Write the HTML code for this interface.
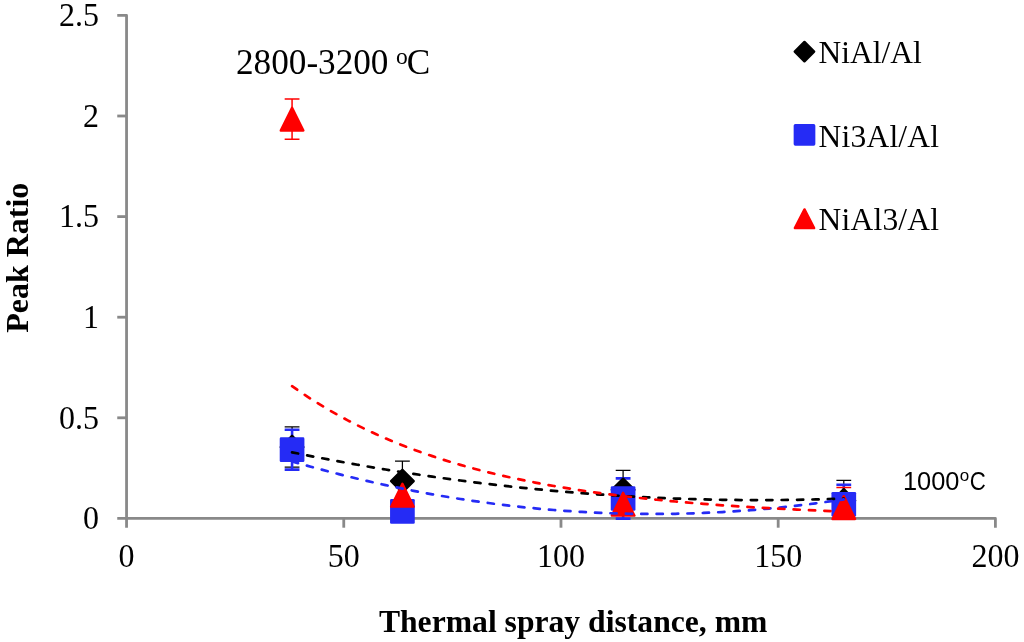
<!DOCTYPE html>
<html lang="en"><head><meta charset="utf-8"><title>Peak Ratio vs Thermal spray distance</title>
<style>
html,body{margin:0;padding:0;background:#fff;}
body{width:1024px;height:642px;overflow:hidden;}
svg{display:block;will-change:transform;}
.s{font-family:"Liberation Serif","Times New Roman",serif;fill:#000;}
.b{font-family:"Liberation Serif","Times New Roman",serif;font-weight:bold;fill:#000;}
.c{font-family:"Liberation Sans",Arial,sans-serif;fill:#000;}
</style></head><body>
<svg width="1024" height="642" viewBox="0 0 1024 642">
<rect width="1024" height="642" fill="#fff"/>
<g stroke="#898989" stroke-width="2.8" fill="none" stroke-linejoin="round">
<path d="M117.25 15.40H126.55V527.6999999999999"/>
<path d="M117.25 518.4H995.40V527.6999999999999"/>
<path d="M117.25 417.80H126.55"/>
<path d="M117.25 317.20H126.55"/>
<path d="M117.25 216.60H126.55"/>
<path d="M117.25 116.00H126.55"/>
<path d="M343.76 518.4V527.6999999999999"/>
<path d="M560.97 518.4V527.6999999999999"/>
<path d="M778.19 518.4V527.6999999999999"/>
</g>
<text class="s" transform="translate(99,529.10) scale(1,1.04)" font-size="32" text-anchor="end">0</text>
<text class="s" transform="translate(99,429.30) scale(1,1.04)" font-size="32" text-anchor="end">0.5</text>
<text class="s" transform="translate(99,327.90) scale(1,1.04)" font-size="32" text-anchor="end">1</text>
<text class="s" transform="translate(99,227.30) scale(1,1.04)" font-size="32" text-anchor="end">1.5</text>
<text class="s" transform="translate(99,126.70) scale(1,1.04)" font-size="32" text-anchor="end">2</text>
<text class="s" transform="translate(99,26.10) scale(1,1.04)" font-size="32" text-anchor="end">2.5</text>
<text class="s" transform="translate(126.55,567.1) scale(1,1.04)" font-size="32" text-anchor="middle">0</text>
<text class="s" transform="translate(343.76,567.1) scale(1,1.04)" font-size="32" text-anchor="middle">50</text>
<text class="s" transform="translate(560.97,567.1) scale(1,1.04)" font-size="32" text-anchor="middle">100</text>
<text class="s" transform="translate(778.19,567.1) scale(1,1.04)" font-size="32" text-anchor="middle">150</text>
<text class="s" transform="translate(995.40,567.1) scale(1,1.04)" font-size="32" text-anchor="middle">200</text>
<text class="b" transform="translate(28,257.75) rotate(-90)" font-size="32" text-anchor="middle">Peak Ratio</text>
<text class="b" x="573.15" y="632.3" font-size="31.65" text-anchor="middle">Thermal spray distance, mm</text>
<text class="s" x="236" y="74" font-size="35.2">2800-3200</text>
<text class="s" x="395.9" y="63.7" font-size="23.5">o</text>
<text class="s" x="406.8" y="74" font-size="35.2">C</text>
<text class="c" x="902.9" y="489.7" font-size="25.4">1000</text>
<text class="c" x="959.7" y="480.6" font-size="17">o</text>
<text class="c" transform="translate(969.7,489.7) scale(0.875,1)" font-size="25.4">C</text>
<path d="M804.45 41.90L814.15 51.60L804.45 61.30L794.75 51.60Z" fill="#000000" stroke="#000000" stroke-width="2.4" stroke-linejoin="round"/>
<rect x="793.65" y="124.00" width="21.70" height="21.70" rx="1.7" fill="#252bf5"/>
<path d="M804.50 209.40L814.15 228.10L794.85 228.10Z" fill="#ff0000" stroke="#ff0000" stroke-width="2.4" stroke-linejoin="round"/>
<text class="s" x="818.6" y="62.9" font-size="31.5">NiAl/Al</text>
<text class="s" x="818.6" y="146.6" font-size="31.5" textLength="120.4" lengthAdjust="spacing">Ni3Al/Al</text>
<text class="s" x="818.6" y="230.1" font-size="31.5" textLength="120.4" lengthAdjust="spacing">NiAl3/Al</text>
<path d="M292.07 426.95V467.19M284.67 426.95H299.47M284.67 467.19H299.47" stroke="#000000" stroke-width="1.25" fill="none"/>
<path d="M402.41 461.06V501.30M395.01 461.06H409.81M395.01 501.30H409.81" stroke="#000000" stroke-width="1.25" fill="none"/>
<path d="M623.10 470.31V509.35M615.70 470.31H630.50M615.70 509.35H630.50" stroke="#000000" stroke-width="1.25" fill="none"/>
<path d="M843.79 480.37V518.40M836.39 480.37H851.19" stroke="#000000" stroke-width="1.25" fill="none"/>
<path d="M292.07 429.77V469.61M284.67 429.77H299.47M284.67 469.61H299.47" stroke="#252bf5" stroke-width="2.6" fill="none"/>
<path d="M623.10 478.36V518.40M615.70 478.36H630.50M615.70 518.60H630.50" stroke="#252bf5" stroke-width="2.6" fill="none"/>
<path d="M843.79 484.80V518.40M836.39 484.80H851.19" stroke="#252bf5" stroke-width="2.6" fill="none"/>
<path d="M292.07 99.00V139.24M284.67 99.00H299.47M284.67 139.24H299.47" stroke="#ff0000" stroke-width="1.5" fill="none"/>
<path d="M843.79 487.42V518.40M836.39 487.42H851.19" stroke="#ff0000" stroke-width="1.5" fill="none"/>
<path d="M292.07 435.77L303.37 447.07L292.07 458.37L280.77 447.07Z" fill="#000000" stroke="#000000" stroke-width="2.4" stroke-linejoin="round"/>
<path d="M402.41 469.88L413.71 481.18L402.41 492.48L391.11 481.18Z" fill="#000000" stroke="#000000" stroke-width="2.4" stroke-linejoin="round"/>
<path d="M623.10 478.53L634.40 489.83L623.10 501.13L611.80 489.83Z" fill="#000000" stroke="#000000" stroke-width="2.4" stroke-linejoin="round"/>
<path d="M843.79 489.19L855.09 500.49L843.79 511.79L832.49 500.49Z" fill="#000000" stroke="#000000" stroke-width="2.4" stroke-linejoin="round"/>
<rect x="279.72" y="437.34" width="24.70" height="24.70" rx="1.3" fill="#252bf5"/>
<rect x="390.06" y="499.01" width="24.70" height="24.70" rx="1.3" fill="#252bf5"/>
<rect x="610.75" y="486.13" width="24.70" height="24.70" rx="1.3" fill="#252bf5"/>
<rect x="831.44" y="491.97" width="24.70" height="24.70" rx="1.3" fill="#252bf5"/>
<path d="M292.07 107.72L303.37 130.52L280.77 130.52Z" fill="#ff0000" stroke="#ff0000" stroke-width="2.4" stroke-linejoin="round"/>
<path d="M402.41 483.86L413.71 506.66L391.11 506.66Z" fill="#ff0000" stroke="#ff0000" stroke-width="2.4" stroke-linejoin="round"/>
<path d="M623.10 492.82L634.40 515.62L611.80 515.62Z" fill="#ff0000" stroke="#ff0000" stroke-width="2.4" stroke-linejoin="round"/>
<path d="M843.79 496.14L855.09 518.94L832.49 518.94Z" fill="#ff0000" stroke="#ff0000" stroke-width="2.4" stroke-linejoin="round"/>
<path d="M292.07 452.32L301.42 454.21L310.77 456.07L320.12 457.88L329.47 459.65L338.82 461.39L348.17 463.09L357.52 464.75L366.88 466.37L376.23 467.96L385.58 469.50L394.93 471.01L404.28 472.48L413.63 473.91L422.98 475.31L432.33 476.66L441.68 477.98L451.04 479.26L460.39 480.50L469.74 481.71L479.09 482.87L488.44 484.00L497.79 485.09L507.14 486.14L516.49 487.15L525.85 488.13L535.20 489.06L544.55 489.96L553.90 490.82L563.25 491.64L572.60 492.43L581.95 493.17L591.30 493.88L600.65 494.55L610.01 495.18L619.36 495.78L628.71 496.33L638.06 496.85L647.41 497.33L656.76 497.77L666.11 498.18L675.46 498.54L684.82 498.87L694.17 499.16L703.52 499.41L712.87 499.62L722.22 499.80L731.57 499.93L740.92 500.03L750.27 500.09L759.63 500.11L768.98 500.10L778.33 500.04L787.68 499.95L797.03 499.82L806.38 499.65L815.73 499.45L825.08 499.20L834.43 498.92L843.79 498.60" fill="none" stroke="#000000" stroke-width="2.7" stroke-linecap="round" stroke-dasharray="6.2 9.2"/>
<path d="M292.07 461.39L301.42 464.08L310.77 466.70L320.12 469.25L329.47 471.72L338.82 474.13L348.17 476.46L357.52 478.73L366.88 480.92L376.23 483.05L385.58 485.10L394.93 487.08L404.28 489.00L413.63 490.84L422.98 492.61L432.33 494.31L441.68 495.94L451.04 497.50L460.39 498.99L469.74 500.41L479.09 501.75L488.44 503.03L497.79 504.24L507.14 505.38L516.49 506.44L525.85 507.44L535.20 508.36L544.55 509.22L553.90 510.00L563.25 510.72L572.60 511.36L581.95 511.93L591.30 512.43L600.65 512.86L610.01 513.23L619.36 513.52L628.71 513.74L638.06 513.88L647.41 513.96L656.76 513.97L666.11 513.91L675.46 513.78L684.82 513.57L694.17 513.30L703.52 512.96L712.87 512.54L722.22 512.06L731.57 511.50L740.92 510.87L750.27 510.18L759.63 509.41L768.98 508.57L778.33 507.66L787.68 506.69L797.03 505.64L806.38 504.52L815.73 503.33L825.08 502.07L834.43 500.73L843.79 499.33" fill="none" stroke="#252bf5" stroke-width="2.7" stroke-linecap="round" stroke-dasharray="6.2 9.2"/>
<path d="M292.07 386.17L301.42 392.65L310.77 398.81L320.12 404.66L329.47 410.24L338.82 415.53L348.17 420.57L357.52 425.36L366.88 429.92L376.23 434.26L385.58 438.38L394.93 442.30L404.28 446.03L413.63 449.57L422.98 452.94L432.33 456.15L441.68 459.20L451.04 462.10L460.39 464.86L469.74 467.48L479.09 469.97L488.44 472.34L497.79 474.60L507.14 476.75L516.49 478.79L525.85 480.73L535.20 482.57L544.55 484.33L553.90 486.00L563.25 487.58L572.60 489.09L581.95 490.53L591.30 491.89L600.65 493.19L610.01 494.43L619.36 495.60L628.71 496.72L638.06 497.78L647.41 498.79L656.76 499.75L666.11 500.66L675.46 501.53L684.82 502.36L694.17 503.14L703.52 503.89L712.87 504.60L722.22 505.28L731.57 505.92L740.92 506.53L750.27 507.11L759.63 507.67L768.98 508.19L778.33 508.69L787.68 509.17L797.03 509.62L806.38 510.05L815.73 510.46L825.08 510.85L834.43 511.22L843.79 511.57" fill="none" stroke="#ff0000" stroke-width="2.7" stroke-linecap="round" stroke-dasharray="6.2 9.2"/>
</svg>
</body></html>
